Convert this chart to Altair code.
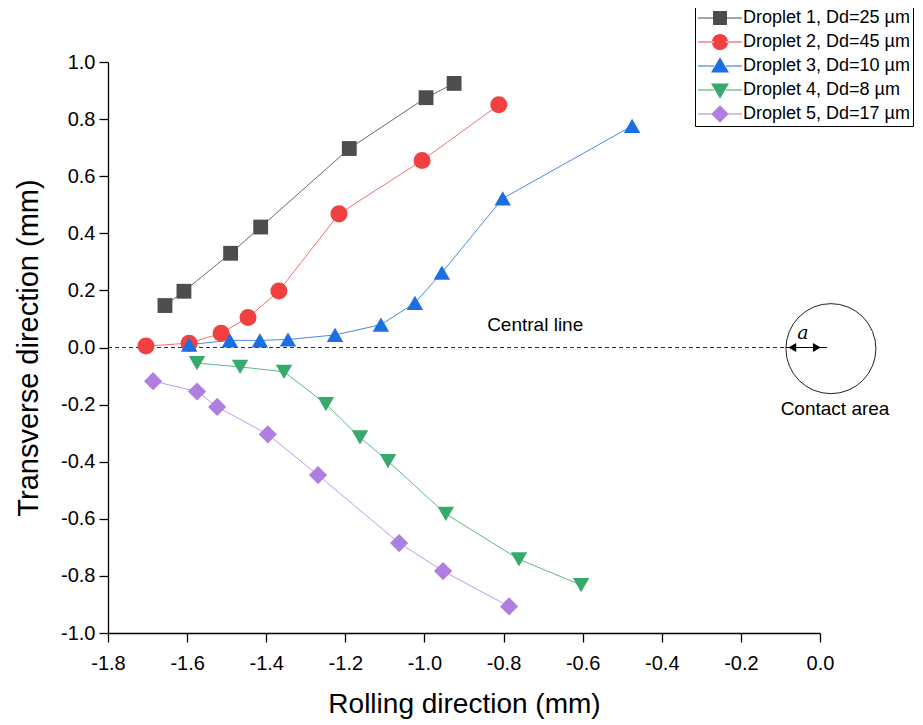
import altair as alt
import pandas as pd

# ---- data ----
names = ["Droplet 1, Dd=25 µm", "Droplet 2, Dd=45 µm", "Droplet 3, Dd=10 µm",
         "Droplet 4, Dd=8 µm", "Droplet 5, Dd=17 µm"]
colors = ["#4d4d4d", "#f04040", "#1c6fe0", "#36aa6a", "#b07ee0"]
line_colors = ["#6a6a6a", "#f27070", "#4a8ae6", "#5cba86", "#c199e8"]
shapes = ["square", "circle", "triangle-up", "triangle-down", "diamond"]
marker_sizes = [220, 290, 270, 270, 330]

d1_x = [-1.656, -1.608, -1.490, -1.414, -1.190, -0.996, -0.925]
d1_y = [0.147, 0.197, 0.330, 0.422, 0.697, 0.875, 0.925]
d2_x = [-1.704, -1.595, -1.514, -1.446, -1.368, -1.216, -1.006, -0.812]
d2_y = [0.005, 0.015, 0.050, 0.105, 0.198, 0.468, 0.655, 0.850]
d3_x = [-1.595, -1.492, -1.416, -1.345, -1.226, -1.110, -1.024, -0.956, -0.802, -0.475]
d3_y = [0.010, 0.025, 0.025, 0.028, 0.044, 0.080, 0.156, 0.262, 0.522, 0.776]
d4_x = [-1.575, -1.466, -1.355, -1.249, -1.163, -1.092, -0.946, -0.761, -0.604]
d4_y = [-0.055, -0.068, -0.085, -0.198, -0.315, -0.398, -0.583, -0.742, -0.832]
d5_x = [-1.686, -1.575, -1.524, -1.396, -1.269, -1.064, -0.953, -0.786]
d5_y = [-0.118, -0.154, -0.208, -0.304, -0.447, -0.685, -0.783, -0.907]

series_x = [d1_x, d2_x, d3_x, d4_x, d5_x]
series_y = [d1_y, d2_y, d3_y, d4_y, d5_y]

x_ticks = [round(-1.8 + i * 0.1, 1) + 0.0 for i in range(19)]
y_ticks = [round(-1.0 + i * 0.1, 1) + 0.0 for i in range(21)]

rows = []
for i, (xs, ys) in enumerate(zip(series_x, series_y)):
    for j, (xv, yv) in enumerate(zip(xs, ys)):
        rows.append({"series": names[i], "x": xv, "y": yv, "order": j})
df = pd.DataFrame(rows)

FONT = "Liberation Sans"
XDOM = [-1.8, 0.0]
YDOM = [-1.0, 1.0]

major_test = "abs(round(datum.value*10)) % 2 == 0"
label_expr = (f"{major_test} ? ((datum.value < -0.001 ? '-' : '') + "
              "format(abs(datum.value), '.1f')) : ''")

x_scale = alt.Scale(domain=XDOM, nice=False, zero=False)
y_scale = alt.Scale(domain=YDOM, nice=False, zero=False)

tick_size = {"condition": {"test": major_test, "value": 9}, "value": 5}

x_axis = alt.Axis(
    title="Rolling direction (mm)", values=x_ticks, labelExpr=label_expr,
    tickSize=tick_size,
    grid=False, domainColor="black", tickColor="black", domainWidth=1.3, tickWidth=1.3,
    labelFont=FONT, labelFontSize=20, labelColor="black", labelPadding=11,
    titleFont=FONT, titleFontSize=28, titleFontWeight="normal", titleColor="black",
    titlePadding=17, labelFlush=False, labelOverlap=False,
)
y_axis = alt.Axis(
    title="Transverse direction (mm)", values=y_ticks, labelExpr=label_expr,
    tickSize=tick_size,
    grid=False, domainColor="black", tickColor="black", domainWidth=1.3, tickWidth=1.3,
    labelFont=FONT, labelFontSize=20, labelColor="black", labelPadding=4,
    titleFont=FONT, titleFontSize=29, titleFontWeight="normal", titleColor="black",
    titlePadding=17, labelFlush=False, labelOverlap=False,
)

# legend symbols: line segment through the marker (custom paths, 12 px per unit)
seg = "M-1.83,-0.04H-0.5V0.04H-1.83Z M0.5,-0.04H1.83V0.04H0.5Z "
legend_paths = [
    seg + "M-0.58,-0.58H0.58V0.58H-0.58Z",
    seg + "M-0.67,0A0.67,0.67 0 1,0 0.67,0A0.67,0.67 0 1,0 -0.67,0Z",
    seg + "M0,-0.72L0.75,0.55L-0.75,0.55Z",
    seg + "M0,0.72L0.75,-0.55L-0.75,-0.55Z",
    seg + "M0,-0.72L0.72,0L0,0.72L-0.72,0Z",
]

color_scale = alt.Scale(domain=names, range=colors)

legend_def = alt.Legend(
    title=None, orient="none", legendX=587, legendY=-59,
    strokeColor="black", fillColor="white", padding=3,
    labelFont=FONT, labelFontSize=18, labelColor="black", labelLimit=300,
    symbolSize=576, symbolStrokeWidth=0, rowPadding=3, labelOffset=11, symbolOffset=10,
)

base = alt.Chart(df)

line_layers = []
point_layers = []
for i, nm in enumerate(names):
    sub = base.transform_filter(alt.datum.series == nm)
    line_layers.append(
        sub.mark_line(strokeWidth=1, color=line_colors[i]).encode(
            x=alt.X("x:Q", scale=x_scale, axis=x_axis),
            y=alt.Y("y:Q", scale=y_scale, axis=y_axis),
            order="order:Q",
        )
    )
    point_layers.append(
        sub.mark_point(
            filled=True, opacity=1, size=marker_sizes[i], shape=shapes[i]
        ).encode(
            x="x:Q", y="y:Q",
            color=alt.Color("series:N", scale=color_scale, legend=legend_def),
        )
    )

# legend-only layer (no drawn data)
legend_layer = base.transform_filter("false").mark_point(filled=True, opacity=1).encode(
    x="x:Q", y="y:Q",
    color=alt.Color("series:N", scale=color_scale, legend=legend_def),
    shape=alt.Shape("series:N", scale=alt.Scale(domain=names, range=legend_paths),
                    legend=legend_def),
)

# central line
central = pd.DataFrame({"x": [XDOM[0]], "x2": [XDOM[1]], "y": [0.0]})
central_rule = alt.Chart(central).mark_rule(
    color="#333333", strokeDash=[4, 3], strokeWidth=1
).encode(x=alt.X("x:Q", scale=x_scale, axis=x_axis), x2="x2:Q",
         y=alt.Y("y:Q", scale=y_scale, axis=y_axis))

central_text = alt.Chart(pd.DataFrame({"x": [-0.72], "y": [0.08], "t": ["Central line"]})).mark_text(
    font=FONT, fontSize=19, color="black"
).encode(x="x:Q", y="y:Q", text="t:N")

# contact area
circle_df = pd.DataFrame({"x": [0.0276], "y": [-0.004]})
circle = alt.Chart(circle_df).mark_point(
    shape="circle", size=8100, filled=False, stroke="#222222", strokeWidth=1, clip=False, opacity=1
).encode(x="x:Q", y="y:Q")

arrow_line = alt.Chart(pd.DataFrame({"x": [-0.086], "x2": [0.018], "y": [0.0]})).mark_rule(
    color="black", strokeWidth=1.2, clip=False
).encode(x="x:Q", x2="x2:Q", y="y:Q")

head_l = alt.Chart(pd.DataFrame({"x": [-0.070], "y": [0.0]})).mark_point(
    shape="triangle-left", filled=True, color="black", size=80, opacity=1, clip=False
).encode(x="x:Q", y="y:Q")
head_r = alt.Chart(pd.DataFrame({"x": [-0.008], "y": [0.0]})).mark_point(
    shape="triangle-right", filled=True, color="black", size=80, opacity=1, clip=False
).encode(x="x:Q", y="y:Q")

a_text = alt.Chart(pd.DataFrame({"x": [-0.043], "y": [0.05], "t": ["a"]})).mark_text(
    font="DejaVu Serif", fontStyle="italic", fontSize=19, color="black"
).encode(x="x:Q", y="y:Q", text="t:N")

contact_text = alt.Chart(pd.DataFrame({"x": [0.038], "y": [-0.215], "t": ["Contact area"]})).mark_text(
    font=FONT, fontSize=19, color="black"
).encode(x="x:Q", y="y:Q", text="t:N")

chart = alt.layer(
    central_rule, *line_layers, *point_layers, legend_layer, central_text, circle, arrow_line,
    head_l, head_r, a_text, contact_text
).properties(
    width=712, height=571,
    autosize=alt.AutoSizeParams(type="none"),
    padding={"left": 100, "top": 54, "right": 95, "bottom": 92},
    background="white",
).configure_view(
    stroke=None
)

chart.save("out.html", embed_options={"renderer": "svg", "actions": False})
